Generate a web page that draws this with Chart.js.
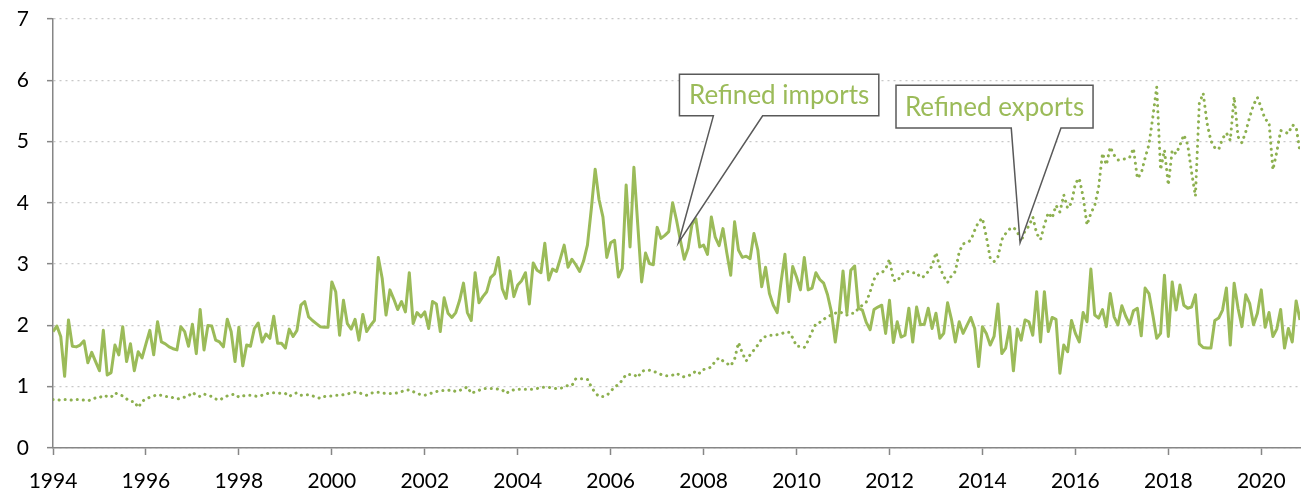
<!DOCTYPE html>
<html>
<head>
<meta charset="utf-8">
<title>Refined imports and exports</title>
<script src="https://cdn.jsdelivr.net/npm/chart.js@4/dist/chart.umd.min.js"></script>
<style>
  html, body { margin: 0; padding: 0; background: #fff; }
  #wrap { width: 1307px; height: 495px; }
</style>
</head>
<body>
<div id="wrap"><canvas id="chart" width="1307" height="495"></canvas></div>
<script>
// monthly series, first value = January 1994
const startYear = 1994;
const yearTicks = [1994, 1996, 1998, 2000, 2002, 2004, 2006, 2008, 2010, 2012, 2014, 2016, 2018, 2020];
const valueTicks = [0, 1, 2, 3, 4, 5, 6, 7];

const importsData = [
  1.90, 1.99, 1.82, 1.17, 2.09, 1.66, 1.65, 1.68, 1.75, 1.39, 1.56, 1.41, // 1994
  1.26, 1.92, 1.19, 1.23, 1.68, 1.52, 1.98, 1.41, 1.70, 1.26, 1.57, 1.47, // 1995
  1.70, 1.92, 1.52, 2.06, 1.73, 1.70, 1.65, 1.62, 1.60, 1.98, 1.90, 1.66, // 1996
  2.02, 1.54, 2.26, 1.60, 2.00, 1.99, 1.76, 1.73, 1.65, 2.10, 1.90, 1.41, // 1997
  1.97, 1.34, 1.68, 1.66, 1.95, 2.04, 1.73, 1.86, 1.79, 2.15, 1.71, 1.71, // 1998
  1.63, 1.94, 1.82, 1.92, 2.33, 2.39, 2.14, 2.08, 2.03, 1.98, 1.97, 1.97, // 1999
  2.71, 2.55, 1.84, 2.41, 2.03, 1.94, 2.10, 1.76, 2.18, 1.90, 2.00, 2.08, // 2000
  3.11, 2.77, 2.17, 2.58, 2.43, 2.26, 2.39, 2.22, 2.86, 2.03, 2.21, 2.14, // 2001
  2.22, 1.95, 2.39, 2.35, 1.90, 2.45, 2.20, 2.13, 2.21, 2.41, 2.69, 2.21, // 2002
  2.08, 2.86, 2.37, 2.47, 2.55, 2.78, 2.84, 3.11, 2.60, 2.44, 2.89, 2.47, // 2003
  2.66, 2.73, 2.86, 2.35, 3.02, 2.90, 2.86, 3.34, 2.74, 2.92, 2.88, 3.09, // 2004
  3.31, 2.95, 3.08, 2.99, 2.88, 3.05, 3.31, 3.90, 4.55, 4.05, 3.77, 3.11, // 2005
  3.35, 3.39, 2.79, 2.93, 4.29, 3.28, 4.58, 3.64, 2.71, 3.18, 3.01, 2.99, // 2006
  3.60, 3.42, 3.47, 3.53, 4.00, 3.72, 3.39, 3.08, 3.26, 3.65, 3.74, 3.28, // 2007
  3.31, 3.16, 3.77, 3.44, 3.30, 3.58, 3.18, 2.82, 3.69, 3.23, 3.11, 3.13, // 2008
  3.09, 3.50, 3.23, 2.63, 2.95, 2.52, 2.33, 2.21, 2.71, 3.16, 2.39, 2.96, // 2009
  2.79, 2.58, 3.11, 2.58, 2.61, 2.86, 2.75, 2.69, 2.50, 2.22, 1.73, 2.20, // 2010
  2.89, 2.20, 2.90, 2.97, 2.28, 2.25, 2.05, 1.93, 2.26, 2.30, 2.33, 1.87, // 2011
  2.41, 1.72, 2.06, 1.81, 1.84, 2.28, 1.73, 2.30, 2.01, 2.02, 2.28, 1.95, // 2012
  2.20, 1.79, 1.87, 2.37, 2.10, 1.73, 2.06, 1.87, 2.00, 2.13, 1.95, 1.33, // 2013
  1.98, 1.87, 1.68, 1.82, 2.35, 1.54, 1.63, 1.98, 1.26, 1.94, 1.76, 2.09, // 2014
  2.06, 1.84, 2.55, 1.73, 2.55, 1.90, 2.13, 2.10, 1.22, 1.68, 1.57, 2.08, // 2015
  1.87, 1.73, 2.21, 2.06, 2.92, 2.17, 2.12, 2.26, 1.98, 2.52, 2.14, 2.01, // 2016
  2.32, 2.15, 2.02, 2.24, 2.28, 1.83, 2.61, 2.52, 2.17, 1.79, 1.87, 2.82, // 2017
  1.82, 2.71, 2.25, 2.66, 2.33, 2.28, 2.30, 2.50, 1.70, 1.64, 1.63, 1.63, // 2018
  2.08, 2.12, 2.25, 2.61, 1.68, 2.69, 2.28, 1.98, 2.50, 2.36, 2.01, 2.20, // 2019
  2.58, 1.97, 2.21, 1.82, 1.94, 2.26, 1.63, 1.95, 1.73, 2.40, 2.09        // 2020
];

const exportsData = [
  0.79, 0.79, 0.78, 0.79, 0.79, 0.78, 0.79, 0.79, 0.78, 0.77, 0.79, 0.82, // 1994
  0.82, 0.86, 0.84, 0.83, 0.90, 0.87, 0.85, 0.80, 0.76, 0.76, 0.66, 0.76, // 1995
  0.80, 0.83, 0.85, 0.87, 0.86, 0.84, 0.84, 0.82, 0.80, 0.81, 0.83, 0.85, // 1996
  0.91, 0.86, 0.84, 0.88, 0.86, 0.84, 0.80, 0.78, 0.82, 0.85, 0.87, 0.88, // 1997
  0.83, 0.85, 0.86, 0.86, 0.85, 0.84, 0.86, 0.88, 0.90, 0.90, 0.90, 0.89, // 1998
  0.89, 0.84, 0.88, 0.90, 0.86, 0.87, 0.87, 0.85, 0.83, 0.81, 0.84, 0.85, // 1999
  0.85, 0.86, 0.86, 0.87, 0.88, 0.90, 0.91, 0.90, 0.88, 0.86, 0.89, 0.91, // 2000
  0.91, 0.90, 0.89, 0.89, 0.89, 0.90, 0.92, 0.94, 0.95, 0.92, 0.89, 0.87, // 2001
  0.86, 0.88, 0.90, 0.92, 0.94, 0.94, 0.94, 0.95, 0.92, 0.94, 0.96, 1.00, // 2002
  0.89, 0.92, 0.94, 0.97, 0.97, 0.97, 0.97, 0.96, 0.95, 0.89, 0.93, 0.95, // 2003
  0.96, 0.96, 0.96, 0.96, 0.96, 0.97, 0.99, 0.99, 0.99, 0.98, 0.97, 0.97, // 2004
  1.00, 1.02, 1.02, 1.13, 1.13, 1.13, 1.12, 1.00, 0.90, 0.84, 0.84, 0.86, // 2005
  0.92, 1.00, 1.03, 1.11, 1.20, 1.20, 1.20, 1.15, 1.25, 1.27, 1.27, 1.25, // 2006
  1.23, 1.20, 1.18, 1.18, 1.19, 1.22, 1.18, 1.16, 1.18, 1.20, 1.26, 1.22, // 2007
  1.28, 1.30, 1.32, 1.42, 1.47, 1.42, 1.38, 1.34, 1.45, 1.72, 1.55, 1.42, // 2008
  1.52, 1.60, 1.68, 1.78, 1.82, 1.84, 1.84, 1.85, 1.86, 1.89, 1.89, 1.80, // 2009
  1.66, 1.66, 1.64, 1.75, 1.90, 2.03, 2.05, 2.10, 2.14, 2.17, 2.20, 2.22, // 2010
  2.20, 2.17, 2.20, 2.20, 2.28, 2.33, 2.38, 2.55, 2.75, 2.85, 2.86, 2.92, // 2011
  3.08, 2.74, 2.72, 2.82, 2.88, 2.88, 2.86, 2.86, 2.78, 2.80, 2.88, 2.97, // 2012
  3.19, 2.95, 2.80, 2.70, 2.81, 2.88, 3.20, 3.33, 3.35, 3.39, 3.55, 3.69, // 2013
  3.75, 3.45, 3.10, 3.04, 3.12, 3.40, 3.50, 3.57, 3.60, 3.53, 3.37, 3.55, // 2014
  3.62, 3.77, 3.50, 3.40, 3.64, 3.84, 3.75, 3.96, 3.85, 4.13, 3.91, 4.00, // 2015
  4.32, 4.40, 4.10, 3.64, 3.83, 3.96, 4.25, 4.81, 4.62, 4.91, 4.78, 4.70, // 2016
  4.71, 4.72, 4.74, 4.89, 4.40, 4.48, 4.73, 4.95, 5.40, 5.89, 4.54, 4.86, // 2017
  4.29, 4.86, 4.80, 4.94, 5.11, 4.95, 4.50, 4.11, 5.62, 5.79, 5.30, 5.01, // 2018
  4.90, 4.87, 5.05, 5.14, 5.02, 5.73, 5.08, 4.98, 5.16, 5.40, 5.60, 5.72, // 2019
  5.55, 5.36, 5.32, 4.54, 4.83, 5.18, 5.16, 5.13, 5.27, 5.24, 4.83        // 2020
];

const seriesNames = ['Refined imports', 'Refined exports'];

// callout shapes, in axis units (x = year, y = value)
const callouts = [
  { text: seriesNames[0], box: [2007.48, 2011.77, 6.10, 5.42], base: [2008.21, 2009.27], tip: [2007.46, 3.35] },
  { text: seriesNames[1], box: [2012.14, 2016.38, 5.92, 5.22], base: [2014.62, 2015.69], tip: [2014.81, 3.35] }
];

const green = '#9BBB59';
const axisGrey = '#868686';
const fontFamily = 'Lato, "Open Sans", sans-serif';

function toPoints(values) {
  return values.map((v, i) => ({ x: startYear + i / 12, y: v }));
}

const calloutPlugin = {
  id: 'callouts',
  afterDatasetsDraw(chart) {
    const ctx = chart.ctx;
    const xs = chart.scales.x;
    const ys = chart.scales.y;
    callouts.forEach(c => {
      const left = xs.getPixelForValue(c.box[0]);
      const right = xs.getPixelForValue(c.box[1]);
      const top = ys.getPixelForValue(c.box[2]);
      const bottom = ys.getPixelForValue(c.box[3]);
      const b1 = xs.getPixelForValue(c.base[0]);
      const b2 = xs.getPixelForValue(c.base[1]);
      const tx = xs.getPixelForValue(c.tip[0]);
      const ty = ys.getPixelForValue(c.tip[1]);
      ctx.save();
      ctx.beginPath();
      ctx.moveTo(left, top);
      ctx.lineTo(right, top);
      ctx.lineTo(right, bottom);
      ctx.lineTo(b2, bottom);
      ctx.lineTo(tx, ty);
      ctx.lineTo(b1, bottom);
      ctx.lineTo(left, bottom);
      ctx.closePath();
      ctx.fillStyle = '#fff';
      ctx.fill();
      ctx.lineWidth = 1.5;
      ctx.strokeStyle = '#595959';
      ctx.stroke();
      //fit the text to the box width
      let size = 26;
      ctx.font = size + 'px ' + fontFamily;
      const target = (right - left) - 16;
      size = size * target / ctx.measureText(c.text).width;
      if (size > 26) size = 26;
      ctx.font = size + 'px ' + fontFamily;
      ctx.fillStyle = green;
      ctx.textAlign = 'center';
      ctx.textBaseline = 'middle';
      ctx.fillText(c.text, (left + right) / 2, (top + bottom) / 2 + 1);
      ctx.restore();
    });
  }
};

const config = {
  type: 'line',
  data: {
    datasets: [
      {
        label: seriesNames[0],
        data: toPoints(importsData),
        borderColor: green,
        backgroundColor: green,
        borderWidth: 3,
        borderJoinStyle: 'round',
        pointRadius: 0,
        tension: 0,
        order: 1
      },
      {
        label: seriesNames[1],
        data: toPoints(exportsData),
        borderColor: '#8DB04F',
        backgroundColor: '#8DB04F',
        borderWidth: 3,
        borderDash: [0.1, 6],
        borderCapStyle: 'round',
        pointRadius: 0,
        tension: 0,
        order: 2
      }
    ]
  },
  options: {
    responsive: false,
    animation: false,
    events: [],
    layout: { padding: { top: 19, right: 7, left: 0, bottom: 0 } },
    plugins: {
      legend: { display: false },
      tooltip: { enabled: false }
    },
    scales: {
      x: {
        type: 'linear',
        min: startYear,
        max: startYear + (importsData.length - 1) / 12,
        afterBuildTicks: s => { s.ticks = yearTicks.map(v => ({ value: v })); },
        afterFit: s => { s.height = 47; },
        grid: {
          drawOnChartArea: false,
          drawTicks: true,
          tickLength: 7,
          tickColor: axisGrey,
          tickWidth: 1.5
        },
        border: { display: true, color: axisGrey, width: 1.5 },
        ticks: {
          autoSkip: false,
          maxRotation: 0,
          padding: 14,
          color: '#000',
          font: { family: fontFamily, size: 21 },
          callback: v => String(v)
        }
      },
      y: {
        min: 0,
        max: 7,
        afterBuildTicks: s => { s.ticks = valueTicks.map(v => ({ value: v })); },
        afterFit: s => {
          s.width = 53;
          //the label padding would otherwise push the plot top down
          s.paddingTop = 0;
          s.paddingBottom = 0;
        },
        grid: {
          color: '#C8C8C8',
          lineWidth: 1.3,
          tickColor: axisGrey,
          tickLength: 6,
          tickWidth: 1.5,
          tickBorderDash: []
        },
        border: { display: true, color: axisGrey, width: 1.5, dash: [2, 4] },
        ticks: {
          padding: 18,
          color: '#000',
          font: { family: fontFamily, size: 21 }
        }
      }
    }
  },
  plugins: [calloutPlugin]
};

const chart = new Chart(document.getElementById('chart'), config);
</script>
</body>
</html>
